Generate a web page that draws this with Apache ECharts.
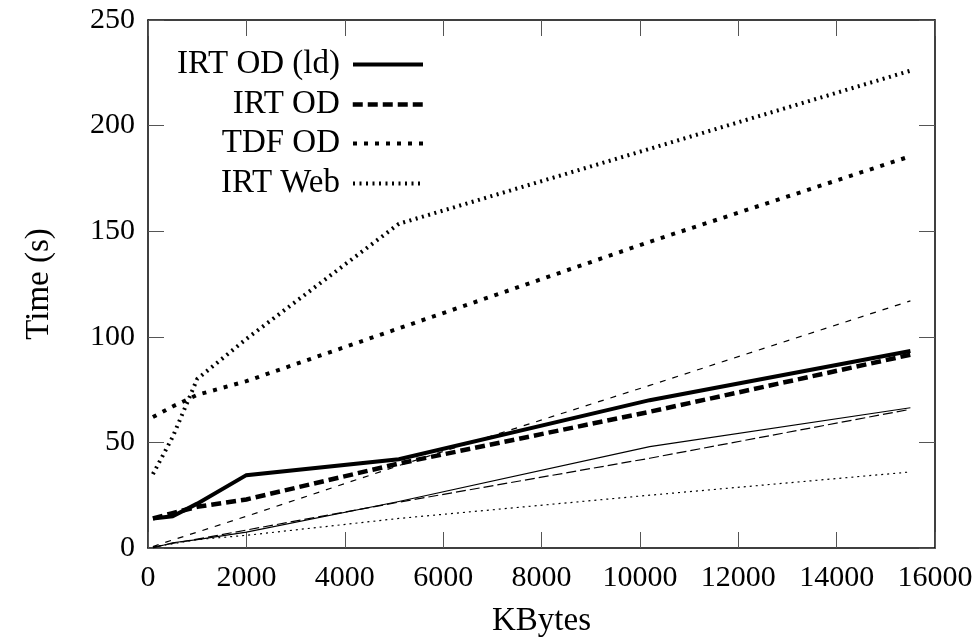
<!DOCTYPE html>
<html>
<head>
<meta charset="utf-8">
<script src="https://cdn.jsdelivr.net/npm/echarts@6/dist/echarts.min.js"></script>
<style>
  html, body { margin: 0; padding: 0; background: #fff; }
  #mainChart { width: 978px; height: 644px; }
</style>
</head>
<body>
<div id="mainChart"></div>
<script>
// x values (KBytes)
var kbytes = [100, 500, 1000, 2000, 5100, 10200, 15500];

// measured series
var irtOdLd = [14, 15, 21, 34.5, 42, 70, 93.3];
var irtOd = [14, 16.5, 19.5, 23, 40, 64.5, 91.5];
var tdfOd = [62, 67, 72.5, 79, 104, 145, 185.5];
var irtWeb = [35, 52.5, 80, 99, 153.5, 189, 226];

// thin lines (no legend)
var thinSolid = [0, 2.5, 4, 7.5, 22, 48, 66.4];
var thinLongDash = [0.4, 2.2, 4.2, 8.5, 21.7, 42.5, 65.7];
var thinShortDash = [0.7, 3.8, 7.5, 15, 39, 77, 117];
var thinDotted = [0.5, 2, 4, 6, 14, 25, 36];

var legendNames = ['IRT OD (ld)', 'IRT OD', 'TDF OD', 'IRT Web'];

var font = "'Liberation Serif', 'DejaVu Serif', serif";

// line look of the four legend series
var styles = {
  'IRT OD (ld)': { width: 4, type: 'solid' },
  'IRT OD': { width: 4.5, type: [10, 5] },
  'TDF OD': { width: 4, type: [4, 7] },
  'IRT Web': { width: 4, type: [2, 4.5] }
};
var legendTops = [48, 88, 127, 167];

function pairs(ys) {
  return kbytes.map(function (x, i) { return [x, ys[i]]; });
}

function line(name, ys, width, dash) {
  return {
    name: name,
    type: 'line',
    data: pairs(ys),
    symbol: 'none',
    showSymbol: false,
    animation: false,
    lineStyle: { color: '#000', width: width, type: dash, cap: 'butt', join: 'miter' },
    itemStyle: { color: '#000' },
    z: width > 2 ? 3 : 2
  };
}

var myChart = echarts.init(document.getElementById('mainChart'));

var axisCommon = {
  axisLine: { show: true, onZero: false, lineStyle: { color: '#000', width: 1.5 } },
  axisTick: { show: true, inside: true, length: 16, lineStyle: { color: '#555', width: 1 } },
  splitLine: { show: false }
};

var option = {
  backgroundColor: '#fff',
  animation: false,
  grid: { left: 148, right: 43, top: 20, bottom: 96 },
  legend: legendNames.map(function (n, i) {
    return {
      data: [n],
      right: 553,
      top: legendTops[i],
      align: 'right',
      padding: 0,
      itemWidth: 70,
      itemHeight: 12,
      selectedMode: false,
      // hide the marker dot, keep only the line sample
      itemStyle: { color: 'rgba(0,0,0,0)', borderWidth: 0, opacity: 0 },
      lineStyle: { color: '#000', width: styles[n].width, type: styles[n].type, cap: 'butt' },
      textStyle: { fontFamily: font, fontSize: 33, color: '#000', padding: [0, 8, 0, 0] }
    };
  }),
  xAxis: [
    Object.assign({
      type: 'value',
      min: 0,
      max: 16000,
      interval: 2000,
      name: 'KBytes',
      nameLocation: 'middle',
      nameGap: 57,
      nameTextStyle: { fontFamily: font, fontSize: 33, color: '#000' },
      axisLabel: { fontFamily: font, fontSize: 30, color: '#000', margin: 15, formatter: function (v) { return String(v); } }
    }, axisCommon),
    Object.assign({
      type: 'value',
      position: 'top',
      min: 0,
      max: 16000,
      interval: 2000,
      axisLabel: { show: false }
    }, axisCommon)
  ],
  yAxis: [
    Object.assign({
      type: 'value',
      min: 0,
      max: 250,
      interval: 50,
      name: 'Time (s)',
      nameLocation: 'middle',
      nameGap: 92,
      nameTextStyle: { fontFamily: font, fontSize: 33, color: '#000' },
      axisLabel: { fontFamily: font, fontSize: 30, color: '#000', margin: 13, formatter: function (v) { return String(v); } }
    }, axisCommon),
    Object.assign({
      type: 'value',
      position: 'right',
      min: 0,
      max: 250,
      interval: 50,
      axisLabel: { show: false }
    }, axisCommon)
  ],
  series: [
    line('thin solid', thinSolid, 1.2, 'solid'),
    line('thin long dash', thinLongDash, 1.2, [10, 4]),
    line('thin short dash', thinShortDash, 1.2, [6, 7]),
    line('thin dotted', thinDotted, 1.2, [2, 4]),
    line('IRT OD (ld)', irtOdLd, styles['IRT OD (ld)'].width, styles['IRT OD (ld)'].type),
    line('IRT OD', irtOd, styles['IRT OD'].width, styles['IRT OD'].type),
    line('TDF OD', tdfOd, styles['TDF OD'].width, styles['TDF OD'].type),
    line('IRT Web', irtWeb, styles['IRT Web'].width, styles['IRT Web'].type)
  ]
};

myChart.setOption(option);
</script>
</body>
</html>
